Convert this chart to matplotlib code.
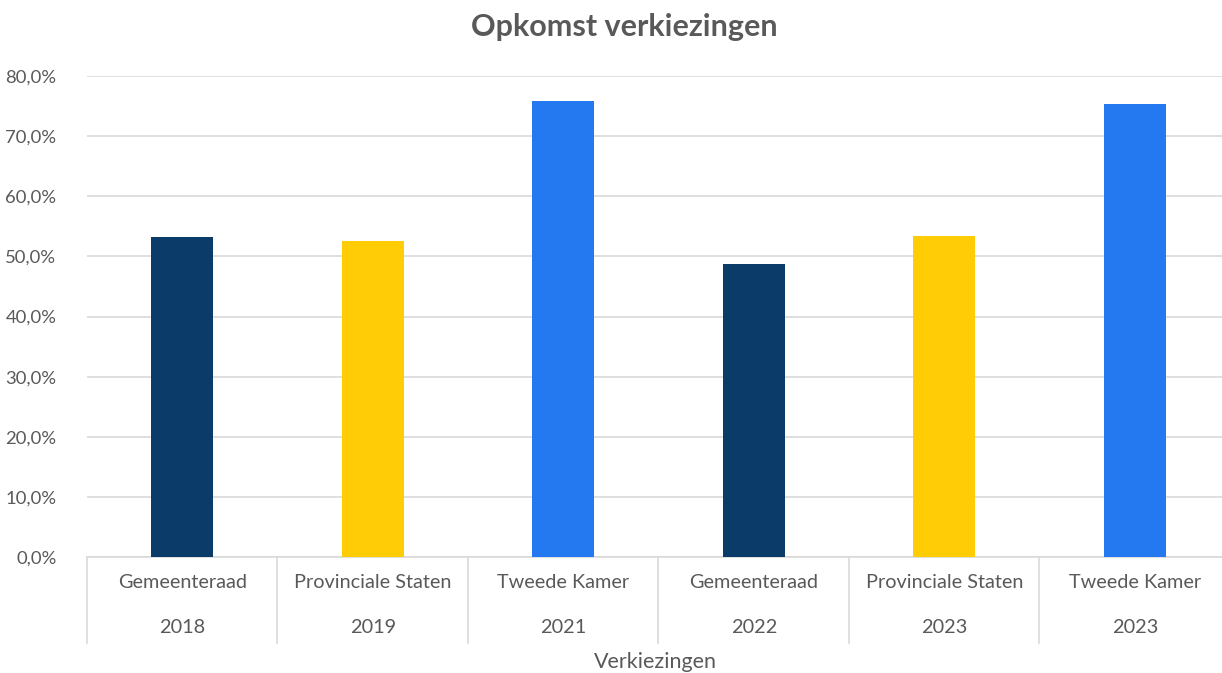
import matplotlib
matplotlib.use("Agg")
import matplotlib.pyplot as plt
from matplotlib.ticker import FuncFormatter
import matplotlib.transforms as mtransforms

# data
elections = ["Gemeenteraad", "Provinciale Staten", "Tweede Kamer",
             "Gemeenteraad", "Provinciale Staten", "Tweede Kamer"]
years = ["2018", "2019", "2021", "2022", "2023", "2023"]
turnout = [0.532, 0.525, 0.758, 0.488, 0.534, 0.753]
bar_colors = ["#0B3C69", "#FFCC05", "#2479F0",
              "#0B3C69", "#FFCC05", "#2479F0"]
y_ticks = [0.0, 0.1, 0.2, 0.3, 0.4, 0.5, 0.6, 0.7, 0.8]

text_col = "#595959"
grid_col = "#D9D9D9"
plt.rcParams["font.family"] = ["Lato", "DejaVu Sans"]

fig = plt.figure(figsize=(12.22, 6.73), dpi=100)
ax = fig.add_axes([87 / 1222, 116 / 673, 1143 / 1222, 481 / 673])

x = list(range(len(turnout)))
ax.bar(x, turnout, width=0.325, color=bar_colors, zorder=3)

ax.set_xlim(-0.5, len(turnout) - 0.5)
ax.set_ylim(0, 0.8)
ax.set_yticks(y_ticks)
ax.yaxis.set_major_formatter(FuncFormatter(lambda v, p: f"{v * 100:.1f}%".replace(".", ",")))
ax.tick_params(axis="y", length=0, pad=22, labelsize=13.3, labelcolor=text_col)
ax.set_xticks([])
ax.grid(axis="y", color=grid_col, linewidth=1.2, zorder=0)

for side in ["top", "right", "left"]:
    ax.spines[side].set_visible(False)
ax.spines["bottom"].set_color(grid_col)
ax.spines["bottom"].set_linewidth(1.2)

# two-level category axis
trans = mtransforms.blended_transform_factory(ax.transData, ax.transAxes)
for i in range(len(turnout)):
    ax.plot([i - 0.5, i - 0.5], [0, -0.179], transform=trans, color=grid_col,
            linewidth=1.2, clip_on=False)
    ax.text(i, -0.054, elections[i], transform=trans, ha="center", va="center",
            fontsize=14.3, color=text_col)
    ax.text(i, -0.146, years[i], transform=trans, ha="center", va="center",
            fontsize=14.3, color=text_col)

ax.text(568 / 1143, -0.218, "Verkiezingen", transform=ax.transAxes, ha="center",
        va="center", fontsize=15.5, color=text_col)

fig.text(624 / 1222, 1 - 27 / 673, "Opkomst verkiezingen", ha="center",
         va="center", fontsize=22, fontweight="bold", color=text_col)

fig.savefig("out.png", dpi=100, facecolor="white")
